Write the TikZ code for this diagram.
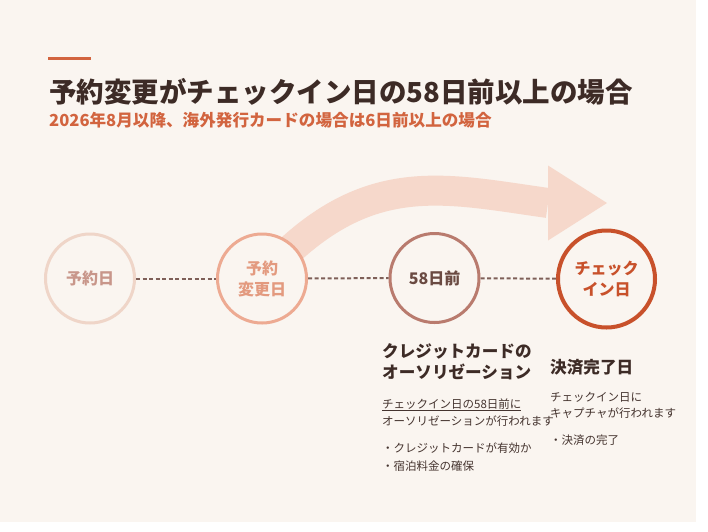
\documentclass[tikz,border=0pt]{standalone}
\usepackage{fontspec}
\setmainfont{Noto Sans CJK JP}
\definecolor{PaperBg}{HTML}{FAF5F0}
\definecolor{InkDark}{HTML}{3D2B26}
\definecolor{InkBody}{HTML}{45342F}
\definecolor{AccentRust}{HTML}{D2643F}
\definecolor{BandPeach}{HTML}{F6D8CB}
\definecolor{DashBrown}{HTML}{7E5F58}
\definecolor{BookedLine}{HTML}{EFD5C8}
\definecolor{BookedText}{HTML}{C8968A}
\definecolor{ChangedLine}{HTML}{EDAA92}
\definecolor{ChangedText}{HTML}{E39A7F}
\definecolor{BeforeLine}{HTML}{B97B6E}
\definecolor{BeforeText}{HTML}{6A4A42}
\definecolor{CheckinLine}{HTML}{C8512B}
\tikzset{
    % circles on the timeline
    day circle/.style={
        circle,
        fill=PaperBg,
        line width=3pt,
        minimum size=89pt,
        inner sep=0pt,
        align=center,
        font=\fontsize{16}{21}\selectfont\bfseries
    },
    booked/.style={draw=BookedLine, text=BookedText},
    changed/.style={draw=ChangedLine, text=ChangedText},
    before/.style={draw=BeforeLine, text=BeforeText},
    checkin day/.style={
        draw=CheckinLine,
        text=CheckinLine,
        line width=4pt,
        minimum size=97pt
    },
    timeline/.style={
        DashBrown,
        line width=2pt,
        dash pattern=on 4pt off 2.5pt
    },
    move band/.style={BandPeach, line width=30pt},
    % text blocks
    title text/.style={
        anchor=west, inner sep=0pt, text=InkDark,
        font=\fontsize{27.5}{32}\selectfont\bfseries
    },
    subtitle text/.style={
        anchor=west, inner sep=0pt, text=AccentRust,
        font=\fontsize{16.6}{20}\selectfont\bfseries
    },
    step heading/.style={
        anchor=west, inner sep=0pt, align=left, text=InkDark,
        font=\fontsize{16.6}{21}\selectfont\bfseries
    },
    step body/.style={
        anchor=west, inner sep=0pt, align=left, text=InkBody,
        font=\fontsize{11.5}{17}\selectfont
    }
}
\begin{document}
\begin{tikzpicture}[x=1pt, y=-1pt]
    % page
    \useasboundingbox (0,0) rectangle (708,531);
    \fill[white] (0,0) rectangle (708,531);
    \fill[PaperBg] (0,0) rectangle (696,522);

    % header
    \draw[AccentRust, line width=3pt] (48,58.7) -- (91,58.7);
    \node[title text] (title) at (49,92) {予約変更がチェックイン日の58日前以上の場合};
    \node[subtitle text] (subtitle) at (49,120.5) {2026年8月以降、海外発行カードの場合は6日前以上の場合};

    % big arrow behind the circles
    \coordinate (bandstart) at (262,278.5);
    \coordinate (headbase) at (548,203);
    \coordinate (headtip) at (607,203);
    \draw[move band] (bandstart) .. controls (362,166.5) and (439,187.7) .. (headbase);
    \fill[BandPeach] (548,165.5) -- (headtip) -- (548,240.5) -- cycle;

    % timeline
    \node[day circle, booked] (booking) at (90,278.5) {予約日};
    \node[day circle, changed] (change) at (262,278.5) {予約\\変更日};
    \node[day circle, before] (auth) at (434.5,278) {58日前};
    \node[day circle, checkin day] (checkin) at (606.5,279) {チェック\\イン日};
    \draw[timeline] (booking) -- (change);
    \draw[timeline] (change) -- (auth);
    \draw[timeline] (auth) -- (checkin);

    % details under 58 days before
    \node[step heading] (authhead) at (382,362) {クレジットカードの\\オーソリゼーション};
    \node[step body] (authbody) at (382,412.5) {\underline{チェックイン日の58日前に}\\オーソリゼーションが行われます};
    \node[step body, font=\fontsize{11.5}{18}\selectfont] (authlist) at (382,457) {・クレジットカードが有効か\\・宿泊料金の確保};

    % details under check-in day
    \node[step heading] (payhead) at (550,367) {決済完了日};
    \node[step body, font=\fontsize{11.5}{16}\selectfont] (paybody) at (550,405.5) {チェックイン日に\\キャプチャが行われます};
    \node[step body] (paylist) at (550,440) {・決済の完了};
\end{tikzpicture}
\end{document}
